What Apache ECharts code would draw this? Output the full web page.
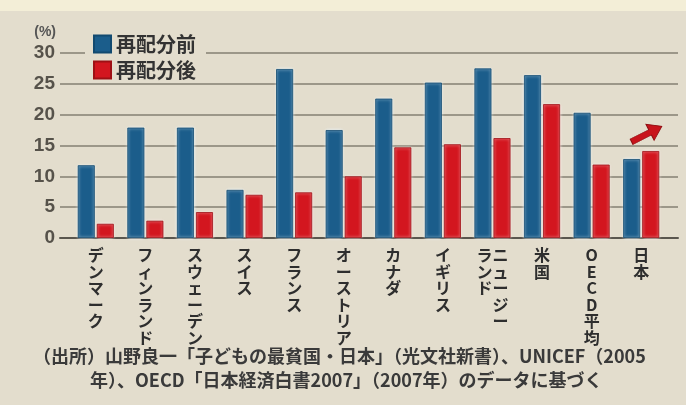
<!DOCTYPE html>
<html>
<head>
<meta charset="utf-8">
<script src="https://cdn.jsdelivr.net/npm/echarts@6/dist/echarts.min.js"></script>
<style>
html,body{margin:0;padding:0;background:#e3ddcd;}
#c{width:686px;height:405px;}
</style>
</head>
<body>
<div id="c"></div>
<script>
const categories = ['デンマーク','フィンランド','スウェーデン','スイス','フランス','オーストリア','カナダ','イギリス','ニュージーランド','米国','OECD平均','日本'];
const beforeRedistribution = [11.8, 17.9, 17.9, 7.8, 27.4, 17.5, 22.6, 25.2, 27.5, 26.4, 20.3, 12.8];
const afterRedistribution = [2.3, 2.8, 4.2, 7.0, 7.4, 10.0, 14.7, 15.2, 16.2, 21.7, 11.9, 14.1];
const yTicks = [0, 5, 10, 15, 20, 25, 30];
const seriesNames = ['再配分前', '再配分後'];
const sourceLines = [
  '（出所）山野良一「子どもの最貧国・日本」（光文社新書）、UNICEF（2005',
  '年）、OECD「日本経済白書2007」（2007年）のデータに基づく'
];

const FONT = '"Noto Sans CJK JP", "Noto Sans", sans-serif';

function verticalLabel(s) {
  const chars = Array.from(s);
  const maxCol = 5;
  if (chars.length <= 6) return chars.join('\n');
  const col1 = chars.slice(0, maxCol);
  const col2 = chars.slice(maxCol);
  const lines = [];
  for (let i = 0; i < col1.length; i++) {
    lines.push((col2[i] || '\u3000') + col1[i]);
  }
  return lines.join('\n');
}

const chart = echarts.init(document.getElementById('c'));
chart.setOption({
  backgroundColor: '#e3ddcd',
  animation: false,
  textStyle: { fontFamily: FONT },
  grid: [
    { left: 71, right: 20, top: 53, bottom: 167 },
    { left: 60, right: 8, top: 53, bottom: 167 }
  ],
  legend: {
    orient: 'vertical',
    left: 85,
    top: 31,
    itemWidth: 17,
    itemHeight: 17,
    itemGap: 6,
    padding: [3, 10, 3, 8],
    backgroundColor: '#e3ddcd',
    icon: 'rect',
    data: seriesNames,
    textStyle: { fontSize: 20, fontWeight: 'bold', color: '#333', fontFamily: FONT, lineHeight: 20 }
  },
  xAxis: [
    {
      type: 'category',
      gridIndex: 0,
      data: categories,
      axisLine: { show: false },
      axisTick: { show: false },
      axisLabel: {
        interval: 0,
        margin: 9,
        fontSize: 16,
        lineHeight: 16.5,
        fontWeight: 'bold',
        color: '#2e2e2e',
        verticalAlign: 'top',
        fontFamily: FONT,
        formatter: verticalLabel
      }
    },
    {
      type: 'category',
      gridIndex: 1,
      data: categories,
      show: true,
      axisLine: { show: true, lineStyle: { color: '#5a564e', width: 2 } },
      axisTick: { show: false },
      axisLabel: { show: false }
    }
  ],
  yAxis: [
    {
      type: 'value',
      gridIndex: 0,
      min: 0, max: 30, interval: 5,
      show: false
    },
    {
      type: 'value',
      gridIndex: 1,
      min: 0, max: 30, interval: 5,
      name: '(%)',
      nameLocation: 'end',
      nameGap: 14,
      nameTextStyle: { align: 'right', padding: [0, 4, 0, 0], fontSize: 14, fontWeight: 'bold', color: '#555', fontFamily: '"Liberation Sans", Arial, sans-serif' },
      axisLine: { show: false },
      axisTick: { show: false },
      splitLine: { show: true, lineStyle: { color: '#857f72', width: 1.6 } },
      axisLabel: {
        margin: 5,
        fontSize: 19,
        fontWeight: 'bold',
        color: '#56524a',
        fontFamily: '"Liberation Sans", Arial, sans-serif',
        formatter: function (v) { return yTicks.indexOf(v) >= 0 ? String(v) : ''; }
      }
    }
  ],
  series: [
    {
      name: seriesNames[0],
      type: 'bar',
      xAxisIndex: 0, yAxisIndex: 0,
      data: beforeRedistribution,
      barWidth: 17,
      barGap: '12%',
      itemStyle: { color: '#1b5d8b', borderColor: '#124a70', borderWidth: 0.8, shadowBlur: 3, shadowColor: 'rgba(240,250,255,0.9)' },
      z: 3
    },
    {
      name: seriesNames[1],
      type: 'bar',
      xAxisIndex: 0, yAxisIndex: 0,
      data: afterRedistribution,
      barWidth: 17,
      barGap: '12%',
      itemStyle: { color: '#d3161f', borderColor: '#9e1015', borderWidth: 0.8, shadowBlur: 3, shadowColor: 'rgba(255,235,235,0.9)' },
      z: 3,
      markPoint: {
        silent: true,
        symbol: 'path://M0,4 L11,4 L11,0 L18,6 L11,12 L11,8 L0,8 Z',
        symbolSize: [34, 18],
        symbolRotate: 27,
        symbolKeepAspect: false,
        label: { show: false },
        itemStyle: { color: '#c8141c', borderColor: '#8e0e12', borderWidth: 0.8 },
        data: [{ coord: [categories.length - 1, afterRedistribution[afterRedistribution.length - 1]], symbolOffset: [-4, -17] }]
      }
    }
  ],
  graphic: [
    {
      type: 'rect',
      left: 0, top: 0,
      shape: { width: 686, height: 11 },
      style: { fill: '#f3eed7' },
      z: -1
    },
    {
      type: 'text',
      left: 33, top: 347,
      style: { text: sourceLines[0], fontSize: 18, fontWeight: 'bold', fontFamily: FONT, fill: '#3a3a3a' }
    },
    {
      type: 'text',
      left: 90, top: 371,
      style: { text: sourceLines[1], fontSize: 18, fontWeight: 'bold', fontFamily: FONT, fill: '#3a3a3a' }
    }
  ]
});
</script>
</body>
</html>
